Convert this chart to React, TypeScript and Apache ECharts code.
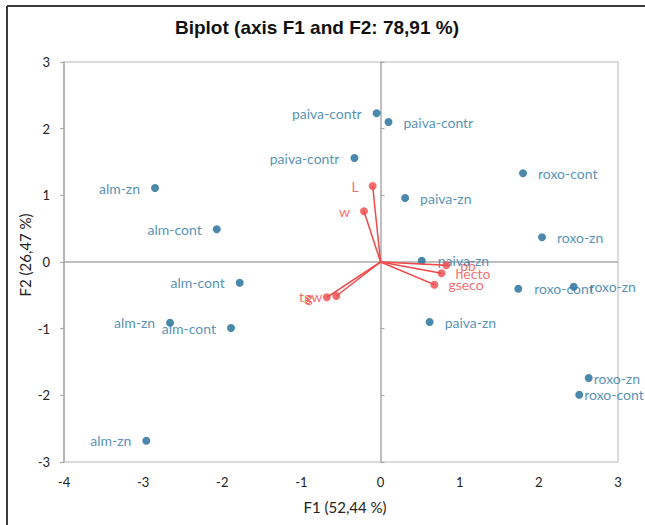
import React, { useEffect, useRef } from "react";
import * as echarts from "echarts";

const obsNames = [
  "paiva-contr", "paiva-contr", "paiva-contr", "alm-zn", "alm-cont", "paiva-zn",
  "roxo-cont", "roxo-zn", "paiva-zn", "roxo-cont", "roxo-zn", "paiva-zn",
  "roxo-zn", "roxo-cont", "alm-cont", "alm-zn", "alm-cont", "alm-zn",
];
const obsF1 = [-0.05, 0.1, -0.33, -2.85, -2.07, 0.31, 1.8, 2.04, 0.52, 1.74, 2.44, 0.62, 2.63, 2.51, -1.78, -2.66, -1.89, -2.96];
const obsF2 = [2.23, 2.1, 1.56, 1.11, 0.49, 0.96, 1.33, 0.37, 0.02, -0.4, -0.37, -0.9, -1.74, -1.99, -0.31, -0.91, -0.99, -2.68];

const varNames = ["L", "w", "pb", "hecto", "gseco", "tgw", "g"];
const varF1 = [-0.1, -0.21, 0.83, 0.77, 0.68, -0.56, -0.68];
const varF2 = [1.14, 0.76, -0.05, -0.17, -0.34, -0.51, -0.53];

const titleText = "Biplot (axis F1 and F2: 78,91 %)";
const xTitle = "F1 (52,44 %)";
const yTitle = "F2 (26,47 %)";

// label layout (not data)
const obsLabelSide = [
  "left", "right", "left", "left", "left", "right",
  "right", "right", "right", "right", "right", "right",
  "right", "right", "left", "left", "left", "left",
];
const obsLabelGap = [11, 11, 11, 11, 11, 11, 11, 11, 12, 12, 12, 11, 1, 1, 11, 11, 11, 11];
const varLabelSide = ["left", "left", "right", "right", "right", "left", "left"];

const BLUE = "#1d6c96";
const BLUE_TXT = "#2a76a6";
const RED = "#f04848";
const FONT = "Lato, 'Open Sans', sans-serif";

export default function App() {
  const ref = useRef<HTMLDivElement>(null);
  useEffect(() => {
    const chart = echarts.init(ref.current!, null, { renderer: "svg" });
    const obsData = obsNames.map((n, i) => ({
      name: n,
      value: [obsF1[i], obsF2[i]],
      label: { position: obsLabelSide[i], distance: obsLabelGap[i] },
    }));
    const varData = varNames.map((n, i) => ({
      name: n,
      value: [varF1[i], varF2[i]],
      label: { position: varLabelSide[i], distance: 10 },
    }));
    const vecSeries = varNames.map((n, i) => ({
      type: "line",
      name: "vec-" + n,
      data: [
        [0, 0],
        [varF1[i], varF2[i]],
      ],
      symbol: "none",
      lineStyle: { color: RED, width: 1.5 },
      silent: true,
      z: 3,
    }));
    const yBase = {
      type: "value",
      min: -3,
      max: 3,
      interval: 1,
      splitLine: { show: false },
    };
    chart.setOption({
      animation: false,
      backgroundColor: "#ffffff",
      grid: {
        left: 64,
        top: 62,
        width: 554,
        height: 400,
        show: true,
        borderColor: "#cfcfcf",
        borderWidth: 1.5,
      },
      xAxis: {
        type: "value",
        min: -4,
        max: 3,
        interval: 1,
        axisLine: { show: false, onZero: false },
        axisTick: { show: false },
        splitLine: { show: false },
        axisLabel: { margin: 13, fontSize: 13, color: "#222", fontFamily: FONT },
      },
      yAxis: [
        {
          ...yBase,
          position: "left",
          axisLine: { show: false, onZero: false },
          axisTick: { show: false },
          axisLabel: { margin: 14, fontSize: 13, color: "#222", fontFamily: FONT },
        },
        {
          ...yBase,
          position: "right",
          axisLine: { show: true, onZero: true, lineStyle: { color: "#aaaaaa", width: 1.5 } },
          axisTick: { show: true, length: 4, lineStyle: { color: "#aaaaaa", width: 1.2 } },
          axisLabel: { show: false },
        },
        {
          ...yBase,
          position: "left",
          axisLine: { show: true, onZero: true, lineStyle: { color: "#aaaaaa", width: 1.5 } },
          axisTick: { show: true, length: 4, lineStyle: { color: "#aaaaaa", width: 1.2 } },
          axisLabel: { show: false },
        },
      ],
      series: [
        {
          type: "scatter",
          name: "obs",
          data: obsData,
          symbolSize: 8,
          itemStyle: { color: BLUE },
          label: {
            show: true,
            formatter: "{b}",
            color: BLUE_TXT,
            fontSize: 14,
            fontFamily: FONT,
          },
          markLine: {
            silent: true,
            symbol: "none",
            label: { show: false },
            lineStyle: { color: "#aaaaaa", width: 1.5, type: "solid" },
            data: [{ yAxis: 0 }],
            z: 1,
          },
          z: 2,
        },
        ...vecSeries,
        {
          type: "scatter",
          name: "vars",
          data: varData,
          symbolSize: 8,
          itemStyle: { color: RED },
          label: {
            show: true,
            formatter: "{b}",
            color: RED,
            fontSize: 14,
            fontFamily: FONT,
          },
          z: 4,
        },
      ],
      graphic: [
        {
          type: "text",
          x: 317,
          y: 27,
          style: {
            text: titleText,
            font: "bold 19px 'Liberation Sans', Arial, sans-serif",
            fill: "#111",
            textAlign: "center",
            textVerticalAlign: "middle",
          },
        },
        {
          type: "text",
          x: 345,
          y: 507,
          style: {
            text: xTitle,
            font: "15px " + FONT,
            fill: "#222",
            textAlign: "center",
            textVerticalAlign: "middle",
          },
        },
        {
          type: "text",
          x: 25,
          y: 255,
          rotation: Math.PI / 2,
          style: {
            text: yTitle,
            font: "15px " + FONT,
            fill: "#222",
            textAlign: "center",
            textVerticalAlign: "middle",
          },
        },
        {
          type: "line",
          shape: { x1: 7, y1: 6, x2: 7, y2: 525 },
          style: { stroke: "#3a3a3a", lineWidth: 2 },
        },
        {
          type: "line",
          shape: { x1: 7, y1: 6, x2: 645, y2: 6 },
          style: { stroke: "#3a3a3a", lineWidth: 2 },
        },
      ],
    });
    return () => chart.dispose();
  }, []);
  return (
    <div
      ref={ref}
      style={{ position: "absolute", left: 0, top: 0, width: 645, height: 525, background: "#fff" }}
    />
  );
}
